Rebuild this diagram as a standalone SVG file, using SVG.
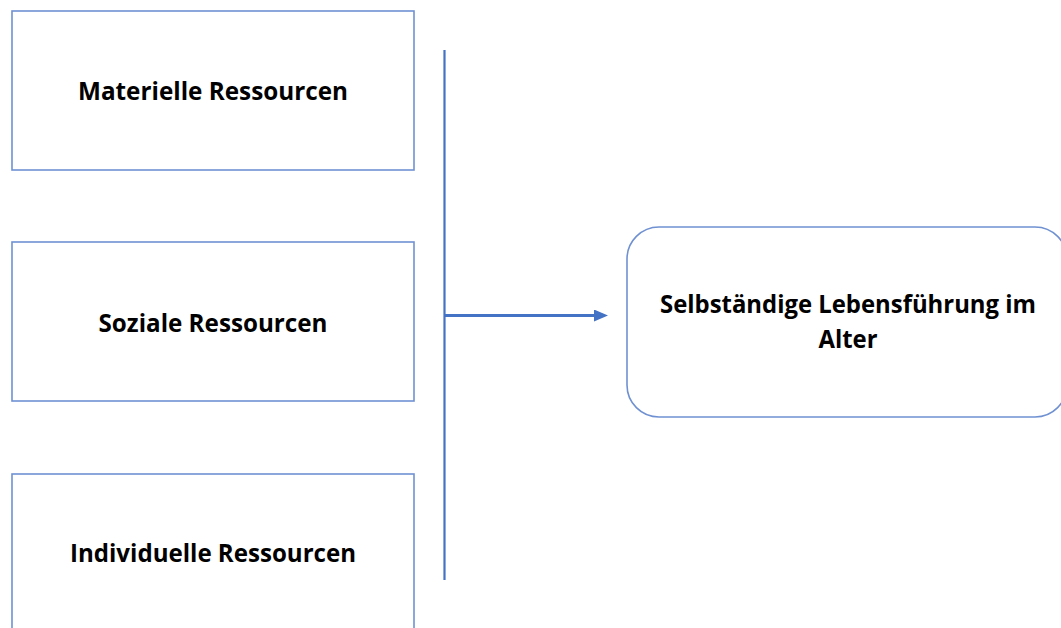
<svg xmlns="http://www.w3.org/2000/svg" width="1061" height="628" viewBox="0 0 1061 628">
<style>
.box{fill:#fff;stroke:#6f91d2;stroke-width:1.6}
.lbl{font-family:"Open Sans","Liberation Sans",sans-serif;font-weight:700;font-size:25px;fill:#000;text-anchor:middle}
.conn{stroke:#4472c4;fill:none}
</style>
<defs>
<marker id="ah" markerWidth="14" markerHeight="12" refX="4" refY="6" orient="auto" markerUnits="userSpaceOnUse">
<path d="M0,0 L14,6 L0,12 z" fill="#4472c4"/>
</marker>
</defs>
<rect width="1061" height="628" fill="#fff"/>
<g id="node-materielle">
<rect class="box" x="12" y="11" width="402" height="159"/>
<text class="lbl" x="213" y="100" textLength="270" lengthAdjust="spacingAndGlyphs">Materielle Ressourcen</text>
</g>
<g id="node-soziale">
<rect class="box" x="12" y="242" width="402" height="159"/>
<text class="lbl" x="213" y="332" textLength="229" lengthAdjust="spacingAndGlyphs">Soziale Ressourcen</text>
</g>
<g id="node-individuelle">
<rect class="box" x="12" y="474" width="402" height="170"/>
<text class="lbl" x="213" y="562" textLength="286" lengthAdjust="spacingAndGlyphs">Individuelle Ressourcen</text>
</g>
<g id="node-ziel">
<rect class="box" x="627" y="227" width="440" height="190" rx="32" ry="32"/>
<text class="lbl" x="848" y="313" textLength="376" lengthAdjust="spacingAndGlyphs">Selbständige Lebensführung im</text>
<text class="lbl" x="848" y="348" textLength="59" lengthAdjust="spacingAndGlyphs">Alter</text>
</g>
<g id="connectors">
<line class="conn" x1="444.5" y1="50" x2="444.5" y2="580" stroke-width="2.2"/>
<line class="conn" x1="445" y1="315.5" x2="598" y2="315.5" stroke-width="3" marker-end="url(#ah)"/>
</g>
</svg>
